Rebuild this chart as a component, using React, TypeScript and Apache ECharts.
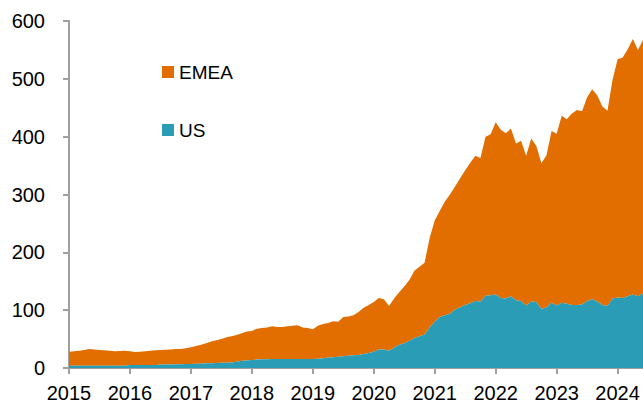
import React, { useEffect, useRef } from "react";
import * as echarts from "echarts";

const YEARS = ["2015", "2016", "2017", "2018", "2019", "2020", "2021", "2022", "2023", "2024"];
const MONTHS_COUNT = 114; // Jan 2015 .. Jun 2024
const MONTHS: string[] = [];
for (let i = 0; i < MONTHS_COUNT; i++) {
  MONTHS.push(YEARS[Math.floor(i / 12)] + "-" + String((i % 12) + 1).padStart(2, "0"));
}

const US = [
  4, 4, 4, 4, 4, 4, 4, 4, 4, 4, 4, 4,
  5, 5, 5, 5, 5, 5, 6, 6, 6, 6.5, 6.5, 7,
  7, 7.5, 7.5, 8, 8, 8.5, 9, 9, 9.5, 11, 12.5, 13,
  14, 14.5, 15, 15, 15.5, 15.5, 15.5, 15.5, 15.5, 15.5, 15.5, 15.5,
  15.5, 16, 17, 18, 18.5, 19.5, 20.5, 21, 22, 22.5, 24, 26,
  28, 32, 32, 30, 35, 40, 43, 47, 52, 55, 58, 70,
  80, 88, 91, 94, 101, 105, 109, 112, 116, 115, 125, 126,
  127, 121, 120, 124, 117, 116, 108, 115, 114, 102, 105, 113,
  108, 113, 111, 109, 109, 110, 116, 119, 115, 109, 107, 120,
  122, 121, 124, 127, 124, 129,
];

const EMEA = [
  24, 25, 26, 27, 29, 28, 27, 26.5, 26, 25, 25.5, 26,
  24, 22.5, 23, 24, 25, 25.5, 25, 25.5, 26, 26.5, 26.5, 27,
  29, 30.5, 32.5, 35, 38, 39.5, 41, 44, 45.5, 46, 47.5, 50,
  50, 53.5, 54, 55, 56.5, 55.5, 55.5, 56.5, 57.5, 58.5, 54.5, 53.5,
  51.5, 57, 59, 60, 62.5, 60.5, 67.5, 68, 69, 74.5, 80, 83,
  86, 89, 87, 77, 85, 91, 98, 105, 116, 120, 124, 155,
  175, 184, 197, 206, 213, 223, 233, 243, 251, 248, 275, 278,
  298, 291, 286, 290, 271, 277, 259, 282, 270, 252, 263, 297,
  297, 323, 319, 331, 337, 334, 352, 363, 356, 343, 338, 378,
  412, 416, 427, 442, 426, 438,
];

const ORANGE = "#E26E00";
const TEAL = "#2B9CB6";
const AXIS_GRAY = "#A0A0A0";
const FONT = "'Liberation Sans', Arial, sans-serif";

export default function App() {
  const ref = useRef<HTMLDivElement>(null);
  useEffect(() => {
    if (!ref.current) return;
    const chart = echarts.init(ref.current, null, { renderer: "svg" });
    chart.setOption({
      animation: false,
      textStyle: { fontFamily: FONT },
      grid: { left: 69, right: 0, top: 21, bottom: 39, containLabel: false },
      legend: {
        data: ["EMEA", "US"],
        orient: "vertical",
        left: 157,
        top: 56,
        icon: "rect",
        itemWidth: 12,
        itemHeight: 12,
        itemGap: 36,
        selectedMode: false,
        textStyle: { fontFamily: FONT, fontSize: 19, color: "#000", lineHeight: 22 },
      },
      xAxis: {
        type: "category",
        data: MONTHS,
        boundaryGap: false,
        axisLine: { show: true, lineStyle: { color: AXIS_GRAY, width: 2 } },
        axisTick: {
          show: true,
          length: 6,
          lineStyle: { color: AXIS_GRAY, width: 2 },
          interval: (idx: number) => idx % 12 === 0,
        },
        axisLabel: {
          interval: (idx: number) => idx % 12 === 0,
          formatter: (v: string) => v.slice(0, 4),
          fontSize: 20,
          color: "#000",
          fontFamily: FONT,
          margin: 15,
        },
        splitLine: { show: false },
      },
      yAxis: {
        type: "value",
        min: 0,
        max: 600,
        interval: 100,
        axisLine: { show: true, lineStyle: { color: AXIS_GRAY, width: 2 } },
        axisTick: { show: true, length: 6, lineStyle: { color: AXIS_GRAY, width: 2 } },
        axisLabel: { fontSize: 20, color: "#000", fontFamily: FONT, margin: 24 },
        splitLine: { show: false },
      },
      series: [
        {
          name: "US",
          type: "line",
          stack: "total",
          data: US,
          symbol: "none",
          lineStyle: { width: 0 },
          areaStyle: { color: TEAL, opacity: 1 },
          itemStyle: { color: TEAL },
          z: 2,
        },
        {
          name: "EMEA",
          type: "line",
          stack: "total",
          data: EMEA,
          symbol: "none",
          lineStyle: { width: 0 },
          areaStyle: { color: ORANGE, opacity: 1 },
          itemStyle: { color: ORANGE },
          z: 1,
        },
      ],
    });
    return () => chart.dispose();
  }, []);
  return (
    <div
      ref={ref}
      style={{ position: "fixed", left: 0, top: 0, width: 643, height: 407, background: "#fff" }}
    />
  );
}
